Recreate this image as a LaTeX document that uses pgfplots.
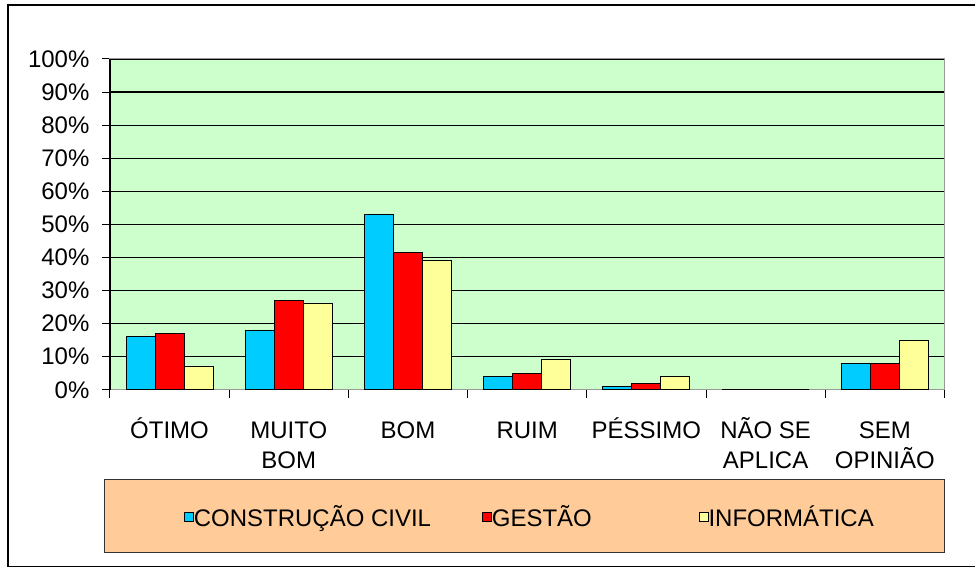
\documentclass[border=0pt]{standalone}
\usepackage{fontspec}
\setmainfont{Liberation Sans}
\usepackage{pgfplots}
\pgfplotsset{compat=1.18}
\definecolor{ccivil}{HTML}{00CCFF}
\definecolor{gestao}{HTML}{FF0000}
\definecolor{infor}{HTML}{FFFF99}
\definecolor{plotbg}{HTML}{CCFFCC}
\definecolor{legbg}{HTML}{FFCC99}

\begin{document}
\begin{tikzpicture}[font=\fontsize{24}{30}\selectfont]
\begin{axis}[
  name=ax, scale only axis, width=835pt, height=331pt,
  ybar=0pt, bar width=29pt,
  xmin=-0.5, xmax=6.5, ymin=0, ymax=100,
  axis background/.style={fill=plotbg},
  axis line style={draw=gray!80, line width=1pt},
  tick pos=left, tick align=outside,
  xtick={0,...,6},
  % every label has two lines so that the baselines line up
  xticklabels={ÓTIMO\\\strut, {MUITO\\BOM}, BOM\\\strut, RUIM\\\strut, PÉSSIMO\\\strut, {NÃO SE\\APLICA}, {SEM\\OPINIÃO}},
  xticklabel style={align=center, anchor=base, yshift=-71pt},
  major x tick style={draw=none},
  minor xtick={-0.5,0.5,...,6.5},
  minor tick length=8pt, major tick length=8pt,
  tick style={black, line width=1pt},
  ytick={0,10,...,100},
  yticklabels={0\%,10\%,20\%,30\%,40\%,50\%,60\%,70\%,80\%,90\%,100\%},
  yticklabel style={xshift=-9pt},
  ymajorgrids, grid style={black, line width=1.2pt},
  clip=false,
  every axis plot post/.append style={
    draw=black, line width=1pt,
    legend image code/.code={\draw[##1, draw=black, line width=0.8pt] (0pt,-4.5pt) rectangle (9pt,4.5pt);}},
  legend columns=3,
  legend style={at={(rel axis cs:0,0)}, anchor=west, xshift=74pt, yshift=-127pt,
    draw=none, fill=none, inner sep=0pt,
    nodes={inner sep=0pt},
    /tikz/every even column/.append style={column sep=3pt}},
]
\draw[fill=legbg, draw=black!80, line width=1pt] ([xshift=-5pt,yshift=-90pt]rel axis cs:0,0) rectangle ([yshift=-163pt]rel axis cs:1,0);
\draw[black, line width=1.2pt] (rel axis cs:0,0) -- (rel axis cs:0,1);
\addplot[fill=ccivil] coordinates {(0,16) (1,18) (2,53) (3,4) (4,1) (5,0) (6,8)};
\addplot[fill=gestao] coordinates {(0,17) (1,27) (2,41.5) (3,5) (4,2) (5,0) (6,8)};
\addplot[fill=infor] coordinates {(0,7) (1,26) (2,39) (3,9) (4,4) (5,0) (6,15)};
\addlegendentry{CONSTRUÇÃO CIVIL\rule{48pt}{0pt}}
\addlegendentry{GESTÃO\rule{104pt}{0pt}}
\addlegendentry{INFORMÁTICA}
\end{axis}
\coordinate (o) at (ax.south west);
\path ([shift={(-110pt,390pt)}]o) rectangle ([shift={(866pt,-179pt)}]o);
\draw[black, line width=1.2pt] ([shift={(866pt,385pt)}]o) -- ([shift={(-102pt,385pt)}]o)
  -- ([shift={(-102pt,-177pt)}]o) -- ([shift={(866pt,-177pt)}]o);
\end{tikzpicture}
\end{document}
